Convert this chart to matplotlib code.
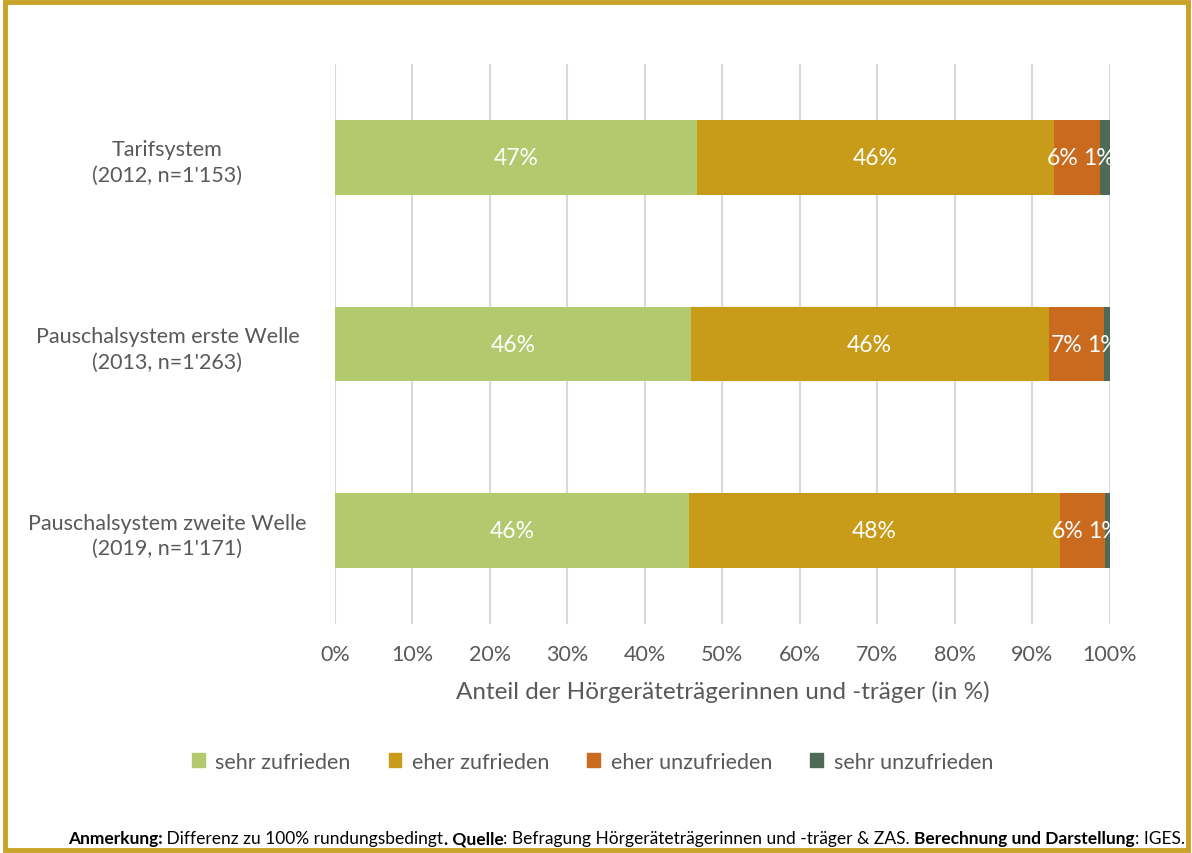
import matplotlib.pyplot as plt
from matplotlib.patches import Rectangle, Patch
import numpy as np

plt.rcParams['font.family'] = ['Lato', 'DejaVu Sans']

categories = ['Tarifsystem\n(2012, n=1\'153)',
              'Pauschalsystem erste Welle\n(2013, n=1\'263)',
              'Pauschalsystem zweite Welle\n(2019, n=1\'171)']
series = ['sehr zufrieden', 'eher zufrieden', 'eher unzufrieden', 'sehr unzufrieden']
values = {
    'sehr zufrieden': [46.7, 45.9, 45.7],
    'eher zufrieden': [46.1, 46.2, 47.9],
    'eher unzufrieden': [6.0, 7.2, 5.8],
    'sehr unzufrieden': [1.2, 0.7, 0.7],
}
colors = ['#B3C96E', '#C89B18', '#C96A1F', '#4E6A57']
text_color = '#595959'

fig = plt.figure(figsize=(11.92, 8.54), dpi=100)
ax = fig.add_axes([0.281, 0.268, 0.650, 0.656])

y = np.arange(len(categories))
left = np.zeros(len(categories))
for i, (name, col) in enumerate(zip(series, colors)):
    vals = np.array(values[name])
    ax.barh(y, vals, left=left, height=0.4, color=col, zorder=3)
    for yi, l, v in zip(y, left, vals):
        lab = f'{round(v):.0f}%'
        if i == 2:
            # small segment: label pushed left so it does not collide with the next one
            ax.annotate(lab, (l + v, yi), xytext=(-22, 0), textcoords='offset pixels',
                        ha='right', va='center', color='white', fontsize=16.5,
                        zorder=4, annotation_clip=False, clip_on=True)
        elif i == 3:
            ax.annotate(lab, (l, yi), xytext=(-17, 0), textcoords='offset pixels',
                        ha='left', va='center', color='white', fontsize=16.5,
                        zorder=4, annotation_clip=False, clip_on=True)
        else:
            ax.text(l + v / 2, yi, lab, ha='center', va='center',
                    color='white', fontsize=16.5, zorder=4)
    left += vals

ax.set_xlim(0, 100)
ax.set_ylim(2.5, -0.5)
ax.set_xticks(np.arange(0, 101, 10))
ax.set_xticklabels([f'{t}%' for t in range(0, 101, 10)])
ax.set_yticks(y)
ax.set_yticklabels(categories, linespacing=1.35)
ax.tick_params(axis='x', length=0, labelsize=15.5, labelcolor=text_color, pad=14)
ax.tick_params(axis='y', length=0, labelsize=15.5, labelcolor=text_color)
for lbl in ax.get_yticklabels():
    lbl.set_horizontalalignment('center')
    lbl.set_x(-0.21)
ax.grid(axis='x', color='#D9D9D9', linewidth=1.5, zorder=0)
for s in ax.spines.values():
    s.set_visible(False)
ax.set_xlabel('Anteil der Hörgeräteträgerinnen und -träger (in %)', fontsize=17.5,
              color=text_color, labelpad=12)

handles = [Patch(color=c, label=s) for s, c in zip(series, colors)]
fig.legend(handles=handles, loc='center', bbox_to_anchor=(0.497, 0.107), ncol=4,
           frameon=False, fontsize=15.5, labelcolor=text_color, handlelength=0.6,
           handleheight=0.6, columnspacing=1.75, handletextpad=0.5)

# footnote built from pieces with different weights, right-aligned
pieces = [('Anmerkung:', 'bold'), (' Differenz zu 100% rundungsbedingt', 'normal'),
          ('. Quelle', 'bold'), (': Befragung Hörgeräteträgerinnen und -träger & ZAS. ', 'normal'),
          ('Berechnung und Darstellung', 'bold'), (': IGES.', 'normal')]
renderer = fig.canvas.get_renderer()
texts = [fig.text(0, 0.017, s, fontsize=12.5, fontweight=w, va='center', color='black')
         for s, w in pieces]
widths = [t.get_window_extent(renderer).width for t in texts]
x = 1185 - sum(widths)
for t, w in zip(texts, widths):
    t.set_x(x / fig.bbox.width)
    x += w

fig.patches.append(Rectangle((0.004, 0.003), 0.993, 0.994, transform=fig.transFigure,
                             fill=False, edgecolor='#C9A227', linewidth=3.5))

fig.savefig('out.png', dpi=100)
